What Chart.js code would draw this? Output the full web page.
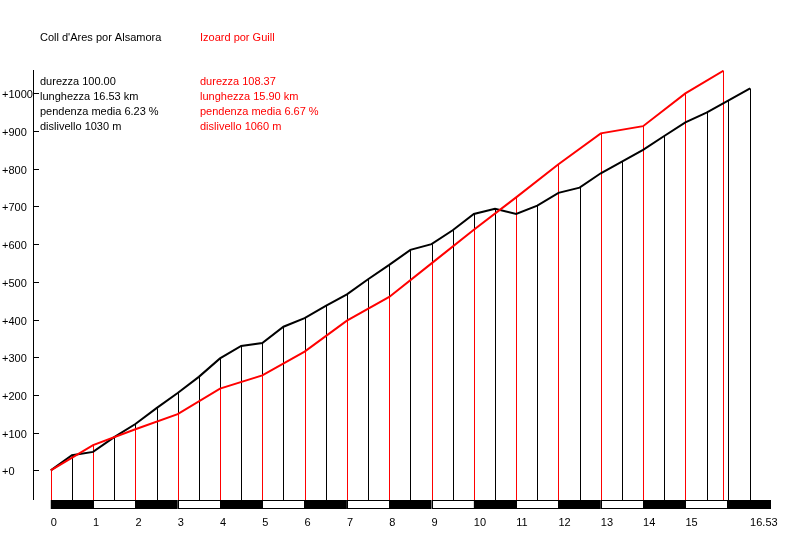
<!DOCTYPE html>
<html>
<head>
<meta charset="utf-8">
<script src="https://cdn.jsdelivr.net/npm/chart.js@4/dist/chart.umd.min.js"></script>
<style>
html,body{margin:0;padding:0;background:#fff;}
canvas{display:block;}
</style>
</head>
<body>
<canvas id="c" width="800" height="560"></canvas>
<script>
// ---- data ----
const blackName = "Coll d'Ares por Alsamora";
const redName = "Izoard por Guill";
const blackInfo = ["durezza 100.00", "lunghezza 16.53 km", "pendenza media 6.23 %", "dislivello 1030 m"];
const redInfo = ["durezza 108.37", "lunghezza 15.90 km", "pendenza media 6.67 %", "dislivello 1060 m"];

const blackKm = [0, 0.5, 1, 1.5, 2, 2.5, 3, 3.5, 4, 4.5, 5, 5.5, 6, 6.5, 7, 7.5, 8, 8.5, 9, 9.5, 10, 10.5, 11, 11.5, 12, 12.5, 13, 13.5, 14, 14.5, 15, 15.5, 16, 16.53];
const blackElev = [0, 40, 49, 88, 123, 165, 205, 248, 297, 330, 338, 381, 404, 436, 467, 507, 545, 585, 600, 637, 680, 694, 680, 702, 736, 750, 788, 819, 850, 887, 923, 949, 980, 1013];

const redKm = [0, 1, 2, 3, 4, 5, 6, 7, 8, 9, 10, 11, 12, 13, 14, 15, 15.9];
const redElev = [0, 67, 109, 149, 217, 252, 315, 397, 460, 549, 638, 724, 812, 894, 913, 1000, 1060];

const xTicks = [0, 1, 2, 3, 4, 5, 6, 7, 8, 9, 10, 11, 12, 13, 14, 15, 16.53];
const yTicks = [0, 100, 200, 300, 400, 500, 600, 700, 800, 900, 1000];
const barSegments = [0, 1, 2, 3, 4, 5, 6, 7, 8, 9, 10, 11, 12, 13, 14, 15, 16, 17];

const FONT = "Liberation Sans, Arial, sans-serif";

function pts(xs, ys) { return xs.map((x, i) => ({x: x, y: ys[i]})); }

const verticals = {
  id: 'verticals',
  beforeDatasetsDraw(chart) {
    const ctx = chart.ctx, xs = chart.scales.x, ys = chart.scales.y;
    const base = chart.chartArea.bottom + 1;
    ctx.save();
    ctx.lineWidth = 1;
    const draw = (kms, els, col) => {
      ctx.strokeStyle = col;
      kms.forEach((k, i) => {
        const px = Math.round(xs.getPixelForValue(k)) + 0.5;
        ctx.beginPath();
        ctx.moveTo(px, ys.getPixelForValue(els[i]));
        ctx.lineTo(px, base);
        ctx.stroke();
      });
    };
    draw(blackKm, blackElev, '#000');
    draw(redKm, redElev, '#ff0000');
    ctx.restore();
  },
  afterDraw(chart) {
    const ctx = chart.ctx, xs = chart.scales.x, ys = chart.scales.y;
    const ca = chart.chartArea;
    ctx.save();
    // km bar
    const top = ca.bottom + 1, h = 9;
    for (let i = 0; i < barSegments.length - 1; i++) {
      const x1 = xs.getPixelForValue(barSegments[i]);
      const x2 = xs.getPixelForValue(barSegments[i + 1]);
      ctx.fillStyle = (i % 2 === 0) ? '#000' : '#fff';
      ctx.fillRect(x1, top, x2 - x1, h);
      ctx.strokeStyle = '#000';
      ctx.lineWidth = 1;
      ctx.strokeRect(Math.round(x1) + 0.5, top + 0.5, Math.round(x2 - x1), h - 1);
    }
    // inward y ticks
    ctx.strokeStyle = '#000';
    ctx.lineWidth = 1;
    yTicks.forEach(v => {
      const py = Math.round(ys.getPixelForValue(v)) + 0.5;
      ctx.beginPath();
      ctx.moveTo(ca.left, py);
      ctx.lineTo(ca.left + 6, py);
      ctx.stroke();
    });
    // texts
    ctx.font = "11px " + FONT;
    ctx.textBaseline = 'middle';
    ctx.textAlign = 'left';
    ctx.fillStyle = '#000';
    ctx.fillText(blackName, 40, 38);
    ctx.fillStyle = '#ff0000';
    ctx.fillText(redName, 200, 38);
    blackInfo.forEach((t, i) => { ctx.fillStyle = '#000'; ctx.fillText(t, 40, 82 + i * 15); });
    redInfo.forEach((t, i) => { ctx.fillStyle = '#ff0000'; ctx.fillText(t, 200, 82 + i * 15); });
    ctx.restore();
  }
};

new Chart(document.getElementById('c'), {
  type: 'line',
  data: {
    datasets: [
      { label: redName, data: pts(redKm, redElev), borderColor: '#ff0000', borderWidth: 2, pointRadius: 0, tension: 0, fill: false },
      { label: blackName, data: pts(blackKm, blackElev), borderColor: '#000', borderWidth: 2, pointRadius: 0, tension: 0, fill: false }
    ]
  },
  options: {
    responsive: false,
    animation: false,
    devicePixelRatio: 1,
    layout: { padding: { left: 2, top: 70, right: 30, bottom: 0 } },
    plugins: { legend: { display: false }, tooltip: { enabled: false }, title: { display: false } },
    scales: {
      x: {
        type: 'linear',
        min: -0.42,
        max: 17,
        afterBuildTicks: s => { s.ticks = xTicks.map(v => ({value: v})); },
        afterFit: s => { s.height = 61; },
        grid: { display: false },
        border: { display: false },
        ticks: {
          align: 'start',
          padding: 9,
          maxRotation: 0,
          autoSkip: false,
          color: '#000',
          font: { size: 11, family: FONT },
          callback: v => String(v)
        }
      },
      y: {
        type: 'linear',
        min: -76,
        max: 1062,
        afterBuildTicks: s => { s.ticks = yTicks.map(v => ({value: v})); },
        afterFit: s => { s.width = 31; },
        grid: { drawOnChartArea: false, drawTicks: false },
        border: { display: true, color: '#000', width: 1 },
        ticks: {
          crossAlign: 'far',
          padding: 2,
          labelOffset: 2,
          color: '#000',
          font: { size: 11, family: FONT },
          callback: v => '+' + v
        }
      }
    }
  },
  plugins: [verticals]
});
</script>
</body>
</html>
